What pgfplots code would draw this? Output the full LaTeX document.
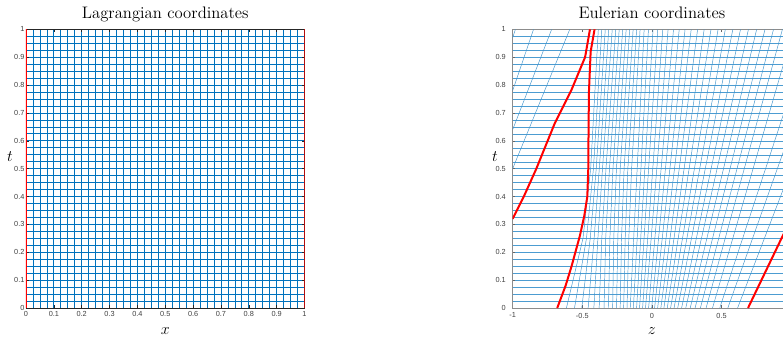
\documentclass[border=0pt]{standalone}
\usepackage{fontspec}
\usepackage{pgfplots}
\pgfplotsset{compat=1.18}
\usepackage{pgfplotstable}
\newfontfamily\tickfont{Liberation Sans}
\definecolor{mblue}{rgb}{0,0.447,0.741}

\pgfplotstableread{
z t
-0.614 0
-0.495 0.25
-0.440 0.5
-0.385 1
nan nan
-0.556 0
-0.470 0.25
-0.420 0.5
-0.360 1
nan nan
-0.504 0
-0.443 0.25
-0.400 0.5
-0.335 1
nan nan
-0.458 0
-0.415 0.25
-0.378 0.5
-0.310 1
nan nan
-0.417 0
-0.388 0.25
-0.355 0.5
-0.285 1
nan nan
-0.379 0
-0.360 0.25
-0.330 0.5
-0.260 1
nan nan
-0.344 0
-0.332 0.25
-0.305 0.5
-0.235 1
nan nan
-0.312 0
-0.302 0.25
-0.280 0.5
-0.210 1
nan nan
-0.282 0
-0.274 0.25
-0.255 0.5
-0.185 1
nan nan
-0.254 0
-0.245 0.25
-0.228 0.5
-0.160 1
nan nan
-0.228 0
-0.218 0.25
-0.200 0.5
-0.135 1
nan nan
-0.203 0
-0.192 0.25
-0.173 0.5
-0.110 1
nan nan
-0.179 0
-0.166 0.25
-0.146 0.5
-0.085 1
nan nan
-0.156 0
-0.106 0.5
-0.056 1
nan nan
-0.133 0
-0.079 0.5
-0.025 1
nan nan
-0.110 0
-0.051 0.5
0.008 1
nan nan
-0.089 0
-0.024 0.5
0.042 1
nan nan
-0.067 0
0.006 0.5
0.078 1
nan nan
-0.046 0
0.035 0.5
0.116 1
nan nan
-0.024 0
0.066 0.5
0.155 1
nan nan
-0.002 0
0.097 0.5
0.196 1
nan nan
0.019 0
0.129 0.5
0.238 1
nan nan
0.041 0
0.162 0.5
0.282 1
nan nan
0.064 0
0.196 0.5
0.328 1
nan nan
0.086 0
0.231 0.5
0.375 1
nan nan
0.110 0
0.267 0.5
0.424 1
nan nan
0.134 0
0.305 0.5
0.475 1
nan nan
0.159 0
0.343 0.5
0.527 1
nan nan
0.185 0
0.383 0.5
0.581 1
nan nan
0.213 0
0.425 0.5
0.636 1
nan nan
0.243 0
0.468 0.5
0.693 1
nan nan
0.275 0
0.514 0.5
0.752 1
nan nan
0.310 0
0.561 0.5
0.812 1
nan nan
0.348 0
0.611 0.5
0.873 1
nan nan
0.389 0
0.663 0.5
0.937 1
nan nan
0.435 0
1.000 0.97
nan nan
-1.000 0.97
-0.980 1
nan nan
0.487 0
1.000 0.78
nan nan
-1.000 0.78
-0.850 1
nan nan
0.545 0
1.000 0.64
nan nan
-1.000 0.64
-0.720 1
nan nan
0.615 0
1.000 0.5
nan nan
-1.000 0.5
-0.590 1
}\traj

\pgfplotstableread{
z t
-0.680 0
-0.620 0.08
-0.577 0.15
-0.517 0.26
-0.486 0.33
-0.464 0.40
-0.457 0.50
-0.455 0.65
-0.452 0.78
-0.440 0.92
-0.412 1.0
nan nan
0.690 0
0.940 0.26
1.000 0.32
nan nan
-1.000 0.32
-0.920 0.40
-0.830 0.50
-0.700 0.66
-0.580 0.78
-0.480 0.90
-0.445 1.0
}\redtab

\pgfplotstableread{
x t
0 0
0 1
nan nan
1 0
1 1
}\lagred

\begin{document}
\begin{tikzpicture}
\useasboundingbox (0pt,0pt) rectangle (587.25pt,252.75pt);
\clip (0pt,0pt) rectangle (587.25pt,252.75pt);
\pgfplotsset{
  common/.style={
    scale only axis, anchor=south west,
    width=208.9pt, height=209pt,
    ymin=0, ymax=1,
    ytick={0,0.1,0.2,0.3,0.4,0.5,0.6,0.7,0.8,0.9,1},
    yticklabels={0,0.1,0.2,0.3,0.4,0.5,0.6,0.7,0.8,0.9,1},
    tick align=inside, major tick length=2pt, minor tick length=0pt,
    tick label style={font=\tickfont\fontsize{5.5}{6}\selectfont, text=black!75},
    title style={at={(axis description cs:0.5,1)}, anchor=base, font=\fontsize{12.5}{14}\selectfont},
    label style={font=\fontsize{13}{15}\selectfont, inner sep=0pt},
    unbounded coords=jump,
    clip=true,
  }
}
\begin{axis}[common,
  at={(19.5pt,21.75pt)},
  xmin=0, xmax=1,
  xtick={0,0.1,0.2,0.3,0.4,0.5,0.6,0.7,0.8,0.9,1},
  xticklabels={0,0.1,0.2,0.3,0.4,0.5,0.6,0.7,0.8,0.9,1},
  minor x tick num=3, minor y tick num=3,
  grid=both,
  major grid style={mblue, line width=0.55pt},
  minor grid style={mblue, line width=0.55pt},
  axis line style={black!85, line width=0.5pt},
  tick style={black!85, line width=0.4pt},
  yticklabel style={inner sep=1pt},
  xticklabel style={inner sep=1pt, yshift=-1.5pt},
  title={Lagrangian coordinates},
  title style={yshift=2.5pt},
  xlabel={$x$}, xlabel style={at={(axis description cs:0.5,-0.081)}, anchor=center},
  ylabel={$t$}, ylabel style={at={(axis description cs:-0.0575,0.542)}, anchor=center, rotate=-90},
]
\addplot[red, line width=1.5pt] table[x=x,y=t] {\lagred};
\end{axis}

\begin{axis}[common,
  at={(384.5pt,21.75pt)},
  xmin=-1, xmax=1,
  xtick={-1,-0.5,0,0.5},
  xticklabels={-1,-0.5,0,0.5},
  minor y tick num=3,
  ymajorgrids, yminorgrids,
  major grid style={mblue!70, line width=0.3pt},
  minor grid style={mblue!70, line width=0.3pt},
  axis line style={black!45, line width=0.6pt},
  tick style={black!60, line width=0.4pt},
  yticklabel style={inner sep=1pt, xshift=-4pt},
  xticklabel style={inner sep=1pt, yshift=-2.5pt},
  title={Eulerian coordinates},
  title style={yshift=2pt},
  xlabel={$z$}, xlabel style={at={(axis description cs:0.5,-0.083)}, anchor=center},
  ylabel={$t$}, ylabel style={at={(axis description cs:-0.0635,0.542)}, anchor=center, rotate=-90},
]
\addplot[mblue!75, line width=0.35pt] table[x=z,y=t] {\traj};
\addplot[red, line width=1.5pt] table[x=z,y=t] {\redtab};
\end{axis}
\end{tikzpicture}
\end{document}
